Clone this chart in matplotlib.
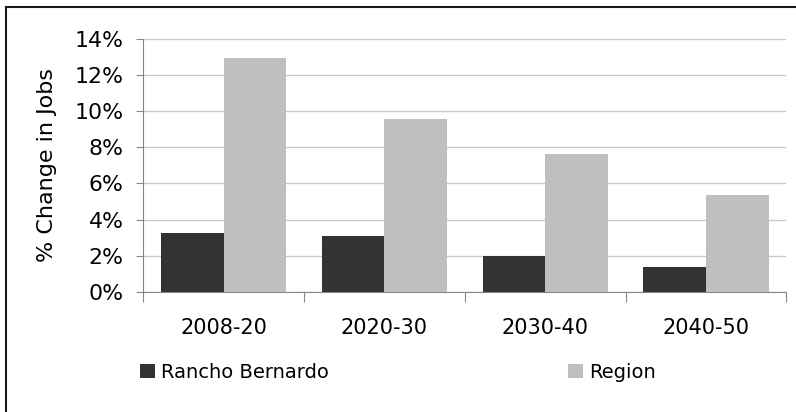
import numpy as np
import matplotlib
matplotlib.use('Agg')
import matplotlib.pyplot as plt
from matplotlib.lines import Line2D
from matplotlib.ticker import FuncFormatter

periods = ['2008-20', '2020-30', '2030-40', '2040-50']
rancho = [3.24, 3.09, 2.00, 1.39]
region = [12.96, 9.56, 7.65, 5.38]
yticks = [0, 2, 4, 6, 8, 10, 12, 14]

plt.rcParams['font.family'] = ['DejaVu Sans']

fig = plt.figure(figsize=(7.96, 4.12), dpi=100)
ax = fig.add_axes([0.180, 0.292, 0.808, 0.613])

x = np.arange(len(periods))
w = 0.39
ax.bar(x - w / 2, rancho, w, color='#333333', label='Rancho Bernardo', zorder=3)
ax.bar(x + w / 2, region, w, color='#bfbfbf', label='Region', zorder=3)

ax.set_xlim(-0.5, len(periods) - 0.5)
ax.set_ylim(0, 14)
ax.set_yticks(yticks)
ax.yaxis.set_major_formatter(FuncFormatter(lambda v, p: '%d%%' % v))
ax.yaxis.grid(True, color='#c8c8c8', linewidth=1, zorder=0)
ax.tick_params(axis='y', labelsize=15.8, length=5, color='#868686', pad=9)

# category labels between boundary ticks
ax.set_xticks(np.arange(-0.5, len(periods), 1.0))
ax.set_xticklabels([])
ax.set_xticks(x, minor=True)
ax.set_xticklabels(periods, minor=True, fontsize=15)
ax.tick_params(axis='x', which='major', length=7, color='#868686')
ax.tick_params(axis='x', which='minor', length=0, pad=19)

for s in ['top', 'right']:
    ax.spines[s].set_visible(False)
ax.spines['left'].set_color('#868686')
ax.spines['bottom'].set_color('#868686')

ax.set_ylabel('% Change in Jobs', fontsize=16, va='center')
ax.yaxis.set_label_coords(-(143.3 - 47) / 643.4, 0.5)

fig.legend(loc='center left', bbox_to_anchor=(0.176, 0.096), ncol=2, frameon=False,
           fontsize=14, handlelength=0.77, handleheight=0.77, handletextpad=0.3,
           columnspacing=12.3, borderaxespad=0, borderpad=0)

# outer frame: only top and left edges are visible
fig.lines.append(Line2D([0.007, 1.0], [0.984, 0.984], transform=fig.transFigure,
                        color='#1a1a1a', linewidth=1.5))
fig.lines.append(Line2D([0.007, 0.007], [0.0, 0.984], transform=fig.transFigure,
                        color='#1a1a1a', linewidth=1.5))

fig.savefig('out.png', dpi=100)
